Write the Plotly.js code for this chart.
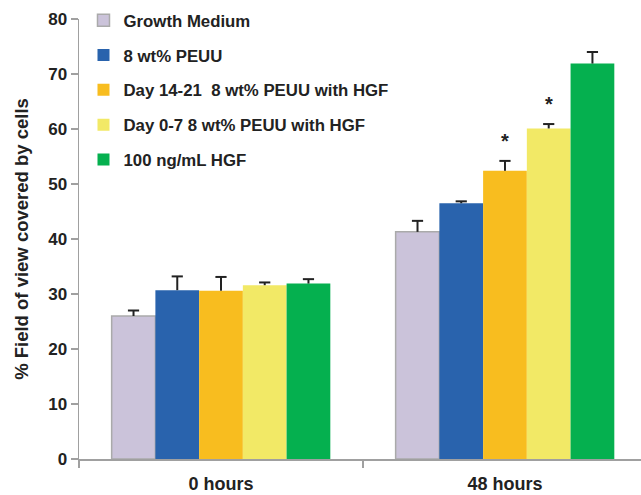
<!DOCTYPE html>
<html>
<head>
<meta charset="utf-8">
<script src="https://cdn.plot.ly/plotly-3.0.1.min.js"></script>
<style>html,body{margin:0;padding:0;background:#fff;}#chart{width:641px;height:495px;}</style>
</head>
<body>
<div id="chart"></div>
<script>
var categories = ["0 hours", "48 hours"];
var seriesNames = ["Growth Medium", "8 wt% PEUU", "Day 14-21  8 wt% PEUU with HGF", "Day 0-7 8 wt% PEUU with HGF", "100 ng/mL HGF"];
var growthMedium = [26.0, 41.3];
var peuu = [30.7, 46.5];
var day1421 = [30.6, 52.4];
var day07 = [31.6, 60.1];
var hgf = [31.9, 71.9];
var errGrowthMedium = [1.0, 2.0];
var errPeuu = [2.5, 0.35];
var errDay1421 = [2.5, 1.8];
var errDay07 = [0.5, 0.8];
var errHgf = [0.8, 2.1];
var significant = [[false, false], [false, false], [false, true], [false, true], [false, false]];

var values = [growthMedium, peuu, day1421, day07, hgf];
var errors = [errGrowthMedium, errPeuu, errDay1421, errDay07, errHgf];
var colors = ["#cbc3da", "#2963ad", "#f8bd1f", "#f2e966", "#05b04f"];
var lineColors = ["#aaaaaa", "#2963ad", "#f8bd1f", "#f2e966", "#05b04f"];
var lineWidths = [1.5, 0, 0, 0, 0];

var font = "Liberation Sans, Arial, sans-serif";
var bargap = 0.23;

var traces = values.map(function (v, i) {
  return {
    type: "bar",
    name: seriesNames[i],
    x: categories,
    y: v,
    legendgroup: "g" + i,
    offsetgroup: "o" + i,
    marker: {color: colors[i], line: {color: lineColors[i], width: lineWidths[i]}},
    error_y: {type: "data", symmetric: false, array: errors[i], arrayminus: v.map(function () { return 0; }),
      color: "#222222", thickness: 2, width: 0}
  };
});

// caps of the upper error bars
values.forEach(function (v, i) {
  traces.push({
    type: "scatter", mode: "markers", showlegend: false, hoverinfo: "skip",
    x: categories,
    y: v.map(function (val, j) { return val + errors[i][j]; }),
    offsetgroup: "o" + i,
    marker: {symbol: "line-ew-open", size: 8, color: "#222222", line: {color: "#222222", width: 2}}
  });
});

var annotations = [];
var barW = (1 - bargap) / values.length;
significant.forEach(function (row, i) {
  row.forEach(function (s, j) {
    if (s) {
      annotations.push({
        xref: "x", yref: "y",
        x: j + (i - (values.length - 1) / 2) * barW,
        y: values[i][j] + errors[i][j] + 1.2,
        text: "*", showarrow: false, yanchor: "bottom",
        font: {family: font, size: 20, color: "#222222", weight: "bold"}
      });
    }
  });
});

var layout = {
  width: 641, height: 495,
  margin: {l: 79, r: 0, t: 19, b: 36},
  paper_bgcolor: "#ffffff", plot_bgcolor: "#ffffff",
  barmode: "group", bargap: bargap, bargroupgap: 0,
  scattermode: "group", scattergap: bargap,
  showlegend: true,
  legend: {x: 0.008, y: 1.037, xanchor: "left", yanchor: "top", bgcolor: "rgba(0,0,0,0)",
    tracegroupgap: 10, font: {family: font, size: 16.8, color: "#222222", weight: "bold"}},
  xaxis: {
    type: "category", range: [-0.5, 1.479], tickson: "boundaries",
    showline: true, linecolor: "#a0a0a0", linewidth: 1.5,
    ticks: "outside", ticklen: 7, tickcolor: "#a0a0a0", tickwidth: 1.5,
    ticklabelstandoff: 8,
    showgrid: false, zeroline: false,
    tickfont: {family: font, size: 18, color: "#222222", weight: "bold"}
  },
  yaxis: {
    range: [0, 80], dtick: 10, tick0: 0,
    showline: true, linecolor: "#a0a0a0", linewidth: 1.5,
    ticks: "outside", ticklen: 7, tickcolor: "#a0a0a0", tickwidth: 1.5,
    showgrid: false, zeroline: false,
    tickfont: {family: font, size: 17, color: "#222222", weight: "bold"},
    title: {text: "% Field of view covered by cells", standoff: 14,
      font: {family: font, size: 18.5, color: "#222222", weight: "bold"}}
  },
  annotations: annotations
};

Plotly.newPlot("chart", traces, layout, {staticPlot: true, displayModeBar: false});
</script>
</body>
</html>
